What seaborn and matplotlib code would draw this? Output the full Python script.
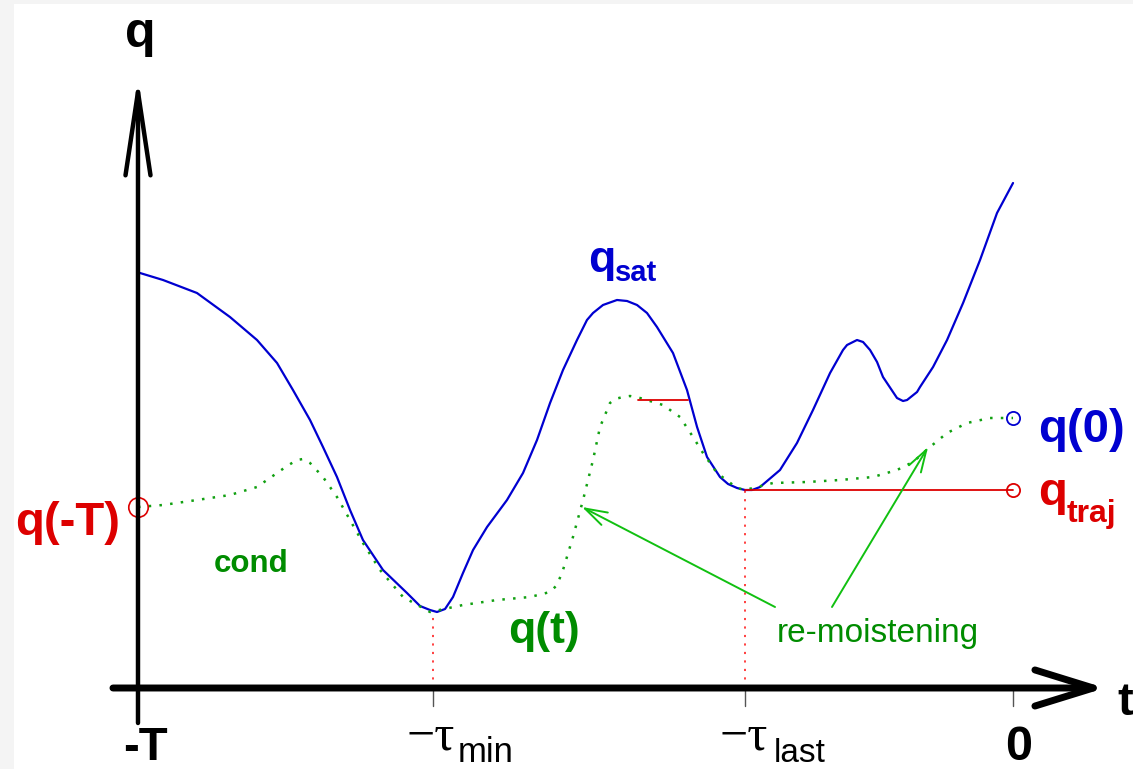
import matplotlib
matplotlib.use("Agg")
import matplotlib.pyplot as plt
from matplotlib.patches import ArrowStyle
import seaborn as sns

sns.set_theme(style="white")
SANS = ["Liberation Sans Narrow", "Liberation Sans", "DejaVu Sans"]
SERIF = ["Liberation Serif", "DejaVu Serif"]
plt.rcParams["font.family"] = SANS

# ---------------- data (t in units where T = 10) ----------------
T = 10.0
tau_min = 6.63
tau_last = 3.06

t_sat = [-9.977, -9.714, -9.326, -8.949, -8.640, -8.411, -8.229, -8.034, -7.886,
         -7.726, -7.577, -7.429, -7.200, -6.926, -6.777, -6.663, -6.583, -6.491,
         -6.400, -6.286, -6.171, -6.011, -5.783, -5.600, -5.440, -5.291, -5.143,
         -4.983, -4.869, -4.800, -4.686, -4.526, -4.411, -4.297, -4.183, -4.069,
         -3.886, -3.726, -3.611, -3.497, -3.349, -3.257, -3.154, -3.063, -2.983,
         -2.891, -2.663, -2.469, -2.286, -2.091, -1.943, -1.897, -1.783, -1.714,
         -1.634, -1.554, -1.486, -1.326, -1.257, -1.211, -1.097, -1.063, -0.914,
         -0.754, -0.571, -0.377, -0.183, 0.0]
q_sat = [4.15, 4.08, 3.95, 3.71, 3.48, 3.25, 2.98, 2.68, 2.41,
         2.11, 1.78, 1.48, 1.18, 0.95, 0.82, 0.78, 0.76, 0.79,
         0.91, 1.15, 1.38, 1.61, 1.88, 2.15, 2.48, 2.85, 3.18,
         3.48, 3.68, 3.75, 3.83, 3.88, 3.87, 3.83, 3.75, 3.61,
         3.35, 2.98, 2.61, 2.31, 2.11, 2.04, 2.00, 1.98, 1.98,
         2.01, 2.18, 2.45, 2.78, 3.15, 3.38, 3.43, 3.48, 3.46,
         3.38, 3.26, 3.11, 2.90, 2.87, 2.88, 2.96, 3.01, 3.21,
         3.48, 3.85, 4.28, 4.75, 5.05]

t_q = [-10.0, -9.714, -9.326, -8.949, -8.640, -8.411, -8.297, -8.183, -8.114,
       -8.034, -7.886, -7.726, -7.577, -7.429, -7.234, -6.971, -6.663, -6.286,
       -5.897, -5.520, -5.291, -5.211, -5.143, -5.029, -4.914, -4.800, -4.720,
       -4.606, -4.549, -4.457, -4.377, -4.263, -4.000, -3.806, -3.657, -3.543,
       -3.383, -3.154, -3.063, -2.743, -2.354, -1.977, -1.600, -1.326, -1.143,
       -0.949, -0.754, -0.526, -0.263, 0.0]
q_q = [1.81, 1.83, 1.88, 1.93, 2.01, 2.15, 2.22, 2.28, 2.29,
       2.25, 2.11, 1.91, 1.68, 1.45, 1.18, 0.91, 0.76, 0.83,
       0.88, 0.91, 0.96, 1.03, 1.18, 1.51, 1.88, 2.28, 2.61,
       2.85, 2.89, 2.91, 2.92, 2.90, 2.83, 2.71, 2.51, 2.35,
       2.15, 2.00, 1.98, 2.05, 2.06, 2.08, 2.11, 2.18, 2.26,
       2.41, 2.55, 2.65, 2.70, 2.70]

q_minus_T = 1.81
q_zero = 2.70
q_traj = 1.98
q_at_tau_min = 0.76
q_plateau = 2.88
t_plateau = [-4.29, -3.71]

tick_t = [-tau_min, -tau_last, 0.0]

# ---------------- colours ----------------
BLUE = "#0000d0"
RED = "#dd0000"
GREEN_LINE = "#11a011"
GREEN_TEXT = "#008c00"
GREEN_ARROW = "#11c011"

fig = plt.figure(figsize=(11.33, 7.69), dpi=100, facecolor="#f4f4f4")
ax = fig.add_axes([14 / 1133, 0, 1 - 14 / 1133, 765 / 769])
ax.set_facecolor("white")
ax.set_xlim(-11.417, 1.371)
ax.set_ylim(-0.81, 6.84)
for s in ax.spines.values():
    s.set_visible(False)
ax.set_xticks([])
ax.set_yticks([])

# red dotted guides to the minima
ax.plot([-tau_min, -tau_min], [0, q_at_tau_min], color="#ff3030", lw=1.3,
        linestyle=(0, (1.2, 3.5)), zorder=1)
ax.plot([-tau_last, -tau_last], [0, q_traj], color="#ff3030", lw=1.3,
        linestyle=(0, (1.2, 3.5)), zorder=1)

# gray ticks below the t axis
for tt in tick_t:
    ax.plot([tt, tt], [0, -0.18], color="#555555", lw=1.0, zorder=1)

# saturation curve
sns.lineplot(x=t_sat, y=q_sat, ax=ax, color=BLUE, lw=1.6, sort=False,
             estimator=None, zorder=3)
# actual humidity q(t)
sns.lineplot(x=t_q, y=q_q, ax=ax, color=GREEN_LINE, lw=1.8, sort=False,
             estimator=None, linestyle=(0, (1, 3.3)), zorder=4)

# red horizontal lines
ax.plot(t_plateau, [q_plateau, q_plateau], color=RED, lw=1.3, zorder=5)
ax.plot([-tau_last, 0.0], [q_traj, q_traj], color=RED, lw=1.3, zorder=5)

# circles
ax.plot([-T], [q_minus_T], marker="o", ms=14, mfc="none", mec=RED, mew=1.2,
        zorder=6, clip_on=False)
ax.plot([0.0], [q_traj], marker="o", ms=9.5, mfc="none", mec=RED, mew=1.3, zorder=6)
ax.plot([0.0], [q_zero], marker="o", ms=9.5, mfc="none", mec=BLUE, mew=1.3, zorder=6)

# axes with arrows
ax.annotate("", xy=(1.051, 0), xytext=(-10.286, 0),
            arrowprops=dict(arrowstyle=ArrowStyle("->", head_length=42, head_width=13),
                            mutation_scale=1, lw=5, color="black",
                            shrinkA=0, shrinkB=0), zorder=7)
ax.annotate("", xy=(-T, 6.11), xytext=(-T, -0.35),
            arrowprops=dict(arrowstyle=ArrowStyle("->", head_length=60, head_width=9),
                            mutation_scale=1, lw=3.2, color="black",
                            shrinkA=0, shrinkB=0), zorder=7)

# green arrows
ax.annotate("", xy=(-4.926, 1.81), xytext=(-2.72, 0.81),
            arrowprops=dict(arrowstyle=ArrowStyle("->", head_length=16, head_width=5),
                            mutation_scale=1, lw=1.4, color=GREEN_ARROW,
                            shrinkA=0, shrinkB=0), zorder=5)
ax.annotate("", xy=(-0.971, 2.41), xytext=(-2.069, 0.81),
            arrowprops=dict(arrowstyle=ArrowStyle("->", head_length=16, head_width=5),
                            mutation_scale=1, lw=1.4, color=GREEN_ARROW,
                            shrinkA=0, shrinkB=0), zorder=5)

# ---------------- texts ----------------
def txt(x, y, s, size, color="black", weight="bold", ha="left", family=SANS):
    ax.text(x, y, s, fontsize=size, color=color, fontweight=weight, ha=ha,
            va="baseline", family=family, zorder=8)

txt(-9.977, 6.41, "q", 36, ha="center")
txt(1.19, -0.27, "t", 34)
txt(-10.206, 1.53, "q(-T)", 34, color=RED, ha="right")
txt(0.286, 2.46, "q(0)", 34, color=BLUE)
txt(0.286, 1.83, "q", 34, color=RED)
txt(0.61, 1.66, "traj", 23, color=RED)
txt(-4.857, 4.16, "q", 32, color=BLUE)
txt(-4.55, 4.07, "sat", 21, color=BLUE)
txt(-8.709, 1.16, "cond", 22.5, color=GREEN_TEXT, ha="center")
txt(-5.36, 0.45, "q(t)", 32, color=GREEN_TEXT, ha="center")
txt(-2.697, 0.46, "re-moistening", 24, color=GREEN_TEXT, weight="normal")

# tick labels
txt(-9.92, -0.72, "-T", 34, ha="center")
txt(-6.926, -0.62, "−τ", 36, weight="normal", family=SERIF)
txt(-6.343, -0.74, "min", 25, weight="normal")
txt(-3.349, -0.62, "−τ", 36, weight="normal", family=SERIF)
txt(-2.731, -0.735, "last", 24, weight="normal")
txt(0.069, -0.72, "0", 35, ha="center")

fig.savefig("out.png", dpi=100, facecolor=fig.get_facecolor())
